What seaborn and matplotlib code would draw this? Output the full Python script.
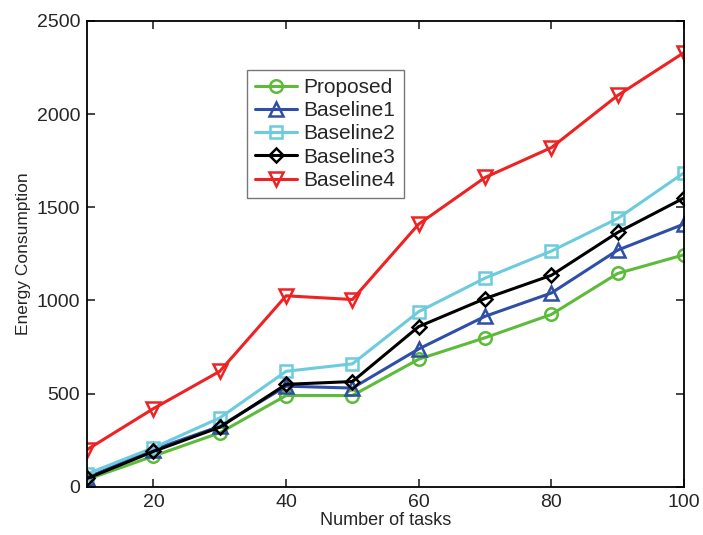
import matplotlib
matplotlib.use("Agg")
import numpy as np
import pandas as pd
import matplotlib.pyplot as plt
import seaborn as sns

# Values
tasks = [10, 20, 30, 40, 50, 60, 70, 80, 90, 100]
proposed = [40, 165, 290, 490, 490, 685, 800, 925, 1145, 1245]
baseline1 = [50, 200, 325, 540, 530, 740, 915, 1040, 1270, 1410]
baseline2 = [70, 210, 370, 620, 660, 940, 1120, 1265, 1440, 1685]
baseline3 = [45, 190, 320, 550, 565, 860, 1010, 1135, 1365, 1550]
baseline4 = [200, 420, 620, 1025, 1005, 1410, 1660, 1820, 2100, 2330]

series_names = ["Proposed", "Baseline1", "Baseline2", "Baseline3", "Baseline4"]
series_values = [proposed, baseline1, baseline2, baseline3, baseline4]
colors = ["#5dbb3a", "#2f4ea6", "#6ccbdc", "#000000", "#ee2222"]
markers = ["o", "^", "s", "D", "v"]
marker_sizes = [9, 10, 8, 7, 10]

sns.set_style("ticks")
plt.rcParams["font.family"] = ["Liberation Sans", "DejaVu Sans"]

fig = plt.figure(figsize=(7.03, 5.35), dpi=100)
ax = fig.add_axes([0.124, 0.090, 0.849, 0.871])

for name, vals, col, mk, ms in zip(series_names, series_values, colors, markers, marker_sizes):
    df = pd.DataFrame({"tasks": tasks, "energy": vals})
    sns.lineplot(data=df, x="tasks", y="energy", ax=ax, color=col, label=name,
                 marker=mk, markersize=ms, markerfacecolor="none",
                 markeredgecolor=col, markeredgewidth=1.8, linewidth=2.2)

ax.set_xlim(10, 100)
ax.set_ylim(0, 2500)
ax.set_xticks([20, 40, 60, 80, 100])
ax.set_yticks([0, 500, 1000, 1500, 2000, 2500])
ax.tick_params(direction="in", length=6, width=1.2, top=True, right=True,
               labelsize=14, pad=5)
for sp in ax.spines.values():
    sp.set_linewidth(1.3)
    sp.set_color("black")

ax.set_xlabel("Number of tasks", fontsize=13, labelpad=1)
ax.set_ylabel("Energy Consumption", fontsize=12.5, labelpad=4)

leg = ax.legend(loc="upper left", bbox_to_anchor=(0.268, 0.895), fontsize=15,
                frameon=True, fancybox=False, edgecolor="#555555",
                handlelength=2.0, handletextpad=0.3, labelspacing=0.2,
                borderpad=0.4, borderaxespad=0)
leg.get_frame().set_linewidth(1.0)

fig.savefig("out.png", dpi=100)
